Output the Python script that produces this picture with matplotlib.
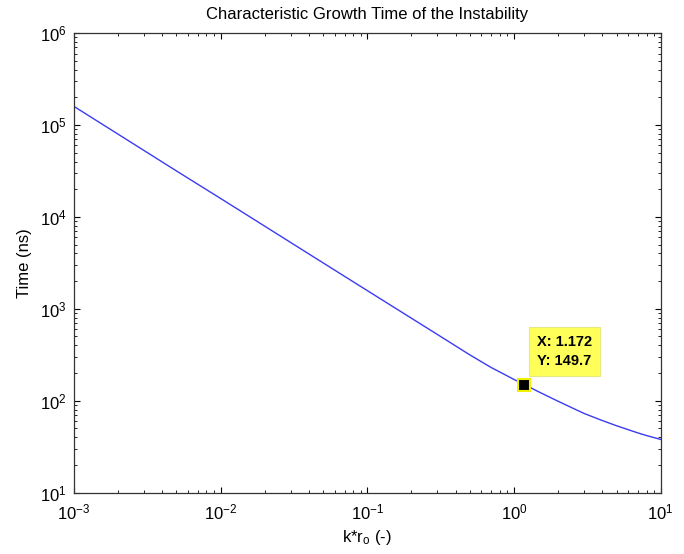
import matplotlib
matplotlib.use('Agg')
import matplotlib.pyplot as plt
import numpy as np

plt.rcParams['font.family'] = ['Liberation Sans', 'DejaVu Sans']
plt.rcParams['mathtext.default'] = 'regular'

# values
k_ro = [0.001, 0.002, 0.005, 0.01, 0.02, 0.05, 0.1, 0.15, 0.2, 0.3, 0.4,
        0.5, 0.7, 0.85, 1.0, 1.172, 1.3, 1.5, 2.0, 2.5, 3.0, 4.0, 5.0,
        6.0, 7.0, 8.0, 10.0]
time_ns = [160000, 79700, 31700, 15900, 7930, 3160, 1578, 1052, 789, 526, 394,
           315, 229, 195, 170, 149.7, 138, 123, 98.4, 83.2, 72.6, 60.7, 53.3,
           48.3, 44.5, 41.7, 37.8]

tip_x = 1.172
tip_y = 149.7

fig = plt.figure(figsize=(6.84, 5.54), dpi=100)
ax = fig.add_axes([0.108, 0.111, 0.858, 0.829])

ax.loglog(k_ro, time_ns, color='#3b3bf5', lw=1)
ax.set_xlim(1e-3, 1e1)
ax.set_ylim(1e1, 1e6)

ax.set_title('Characteristic Growth Time of the Instability', fontsize=12, pad=10)
ax.set_xlabel('k*r$_o$ (-)', fontsize=12, labelpad=4)
ax.set_ylabel('Time (ns)', fontsize=12, labelpad=6)

ax.tick_params(which='both', direction='in', top=True, right=True, labelsize=12)
ax.tick_params(axis='x', which='major', pad=7)
ax.tick_params(axis='y', which='major', pad=5)
ax.tick_params(which='major', length=4, width=0.8)
ax.tick_params(which='minor', length=2.5, width=0.6)
for s in ax.spines.values():
    s.set_color('#333333')
    s.set_linewidth(0.9)

# data tip
ax.plot(tip_x, tip_y, 's', color='black', markersize=8,
        markeredgecolor='#f0f000', markeredgewidth=1.5)
ax.annotate('X: %.3f\nY: %.1f' % (tip_x, tip_y), (tip_x, tip_y),
            xytext=(9, 12), textcoords='offset points',
            ha='left', va='bottom', fontsize=10.5, fontweight='bold',
            linespacing=1.4,
            bbox=dict(boxstyle='square,pad=0.55', fc='#ffff5a', ec='#e8e880', lw=0.8))

plt.savefig('out.png', dpi=100)
